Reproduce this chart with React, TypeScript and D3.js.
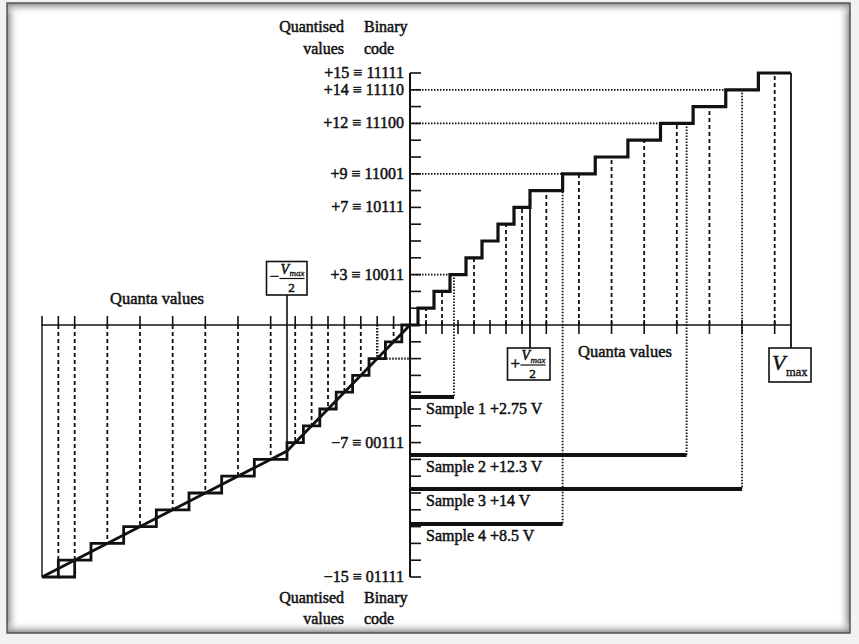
import React from 'react';
import * as d3 from 'd3';

// ---- data ----
const posLevels = [0, 1, 2, 3, 4, 5, 6, 7, 8, 9, 10, 11, 12, 13, 14, 15];
const negLevels = [0, -1, -2, -3, -4, -5, -6, -7, -8, -9, -10, -11, -12, -13, -14, -15];
const diagonalValues = [0, -7.5, -15];
const posQuantaTicks = [1, 2, 3, 4, 5, 6, 7, 8, 9, 10, 11, 12, 13, 14, 15];
const posQuantaDashed = [1, 2, 4, 6, 7, 8, 9, 10, 11, 12, 13, 15];
const negQuantaTicks = [-1, -2, -3, -4, -5, -6, -7, -8, -9, -10, -11, -12, -13, -14, -14.5, -15];
const negQuantaDashed = [-1, -3, -4, -5, -6, -7, -8, -9, -10, -11, -12, -13, -14];
const negDashedExtra = [-14.5];
const yTickLevels = [15, 14, 13, 12, 11, 10, 9, 8, 7, 6, 5, 4, 3, 2, 1, 0, -1, -2, -3, -4, -5, -6, -7, -8, -9, -10, -11, -12, -13, -14, -15];
const labelLevels = [15, 14, 12, 9, 7, 3, -7, -15];
const labelValues = ['+15', '+14', '+12', '+9', '+7', '+3', '\u22127', '\u221215'];
const labelCodes = ['11111', '11110', '11100', '11001', '10111', '10011', '00111', '01111'];
const sampleNames = ['Sample 1', 'Sample 2', 'Sample 3', 'Sample 4'];
const sampleVolts = [2.75, 12.3, 14, 8.5];
const sampleVoltText = ['+2.75 V', '+12.3 V', '+14 V', '+8.5 V'];
const sampleQuantised = [3, 12, 14, 9];
const negGuideLevel = -2;
const halfMax = 7.5;
const fullMax = 15.5;

// ---- layout ----
const W = 859;
const H = 644;
const X0 = 410;
const sampleBarY = [397, 455, 489, 524];
const FONT = '"Liberation Serif", "Times New Roman", serif';
const INK = '#111';

const xPos = d3.scaleLinear().domain([0, halfMax, fullMax]).range([X0, 530, 791]);
const xNeg = d3.scaleLinear().domain([-15, -halfMax, 0]).range([42, 287, X0]);
const xv = (v: number) => (v >= 0 ? xPos(v) : xNeg(v));
const y = d3.scaleLinear().domain([-15, 15]).range([577, 73]);
const Y0 = y(0);

const line = d3.line<[number, number]>();

function posStairs(): [number, number][] {
  const pts: [number, number][] = [[xv(posLevels[0]), y(posLevels[0])]];
  for (let i = 1; i < posLevels.length; i++) {
    const edge = (posLevels[i - 1] + posLevels[i]) / 2;
    pts.push([xv(edge), y(posLevels[i - 1])]);
    pts.push([xv(edge), y(posLevels[i])]);
  }
  pts.push([xv(fullMax), y(posLevels[posLevels.length - 1])]);
  return pts;
}

function negStairs(): [number, number][] {
  const pts: [number, number][] = [[xv(negLevels[0]), y(negLevels[0])]];
  for (let i = 1; i < negLevels.length; i++) {
    const edge = (negLevels[i - 1] + negLevels[i]) / 2;
    pts.push([xv(edge), y(negLevels[i - 1])]);
    pts.push([xv(edge), y(negLevels[i])]);
  }
  const last = negLevels[negLevels.length - 1];
  pts.push([xv(last), y(last)]);
  return pts;
}

const Txt = (p: any) => (
  <text fontFamily={FONT} fill={INK} stroke={INK} strokeWidth={0.5} {...p} />
);

function VmaxFrac({ x, yTop, sign }: { x: number; yTop: number; sign: string }) {
  return (
    <g>
      <Txt x={x + 3} y={yTop + 20} fontSize={17}>{sign}</Txt>
      <Txt x={x + 14} y={yTop + 11.5} fontSize={14} fontStyle="italic">V</Txt>
      <Txt x={x + 23} y={yTop + 14} fontSize={9} fontStyle="italic" strokeWidth={0.3}>max</Txt>
      <line x1={x + 13} x2={x + 38} y1={yTop + 16.5} y2={yTop + 16.5} stroke={INK} strokeWidth={1.2} />
      <Txt x={x + 25} y={yTop + 29.5} fontSize={13} textAnchor="middle">2</Txt>
    </g>
  );
}

export default function App() {
  const dashed = '4 3';
  const dotted = '1.5 1.5';
  return (
    <svg width={W} height={H} style={{ position: 'absolute', left: 0, top: 0, background: '#fff' }}>
      <defs>
        <linearGradient id="gl" x1="0" x2="1" y1="0" y2="0">
          <stop offset="0" stopColor="#8a8a8a" />
          <stop offset="1" stopColor="#fff" stopOpacity={0} />
        </linearGradient>
        <linearGradient id="gr" x1="1" x2="0" y1="0" y2="0">
          <stop offset="0" stopColor="#8a8a8a" />
          <stop offset="1" stopColor="#fff" stopOpacity={0} />
        </linearGradient>
        <linearGradient id="gt" x1="0" x2="0" y1="0" y2="1">
          <stop offset="0" stopColor="#8a8a8a" />
          <stop offset="1" stopColor="#fff" stopOpacity={0} />
        </linearGradient>
        <linearGradient id="gb" x1="0" x2="0" y1="1" y2="0">
          <stop offset="0" stopColor="#8a8a8a" />
          <stop offset="1" stopColor="#fff" stopOpacity={0} />
        </linearGradient>
      </defs>
      <rect x={0} y={0} width={W} height={H} fill="#f2f2f2" />
      <rect x={7} y={3} width={843} height={630} fill="#fff" />
      <rect x={7} y={3} width={12} height={630} fill="url(#gl)" />
      <rect x={838} y={3} width={12} height={630} fill="url(#gr)" />
      <rect x={7} y={3} width={843} height={12} fill="url(#gt)" />
      <rect x={7} y={621} width={843} height={12} fill="url(#gb)" />
      <rect x={7} y={3} width={843} height={630} fill="none" stroke="#555" strokeWidth={1.5} />

      {/* headers */}
      <Txt x={344} y={32} fontSize={16} textAnchor="end">Quantised</Txt>
      <Txt x={364} y={32} fontSize={16}>Binary</Txt>
      <Txt x={344} y={54} fontSize={16} textAnchor="end">values</Txt>
      <Txt x={364} y={54} fontSize={16}>code</Txt>
      <Txt x={344} y={603} fontSize={16} textAnchor="end">Quantised</Txt>
      <Txt x={364} y={603} fontSize={16}>Binary</Txt>
      <Txt x={344} y={624} fontSize={16} textAnchor="end">values</Txt>
      <Txt x={364} y={624} fontSize={16}>code</Txt>

      {/* y-axis labels */}
      {labelLevels.map((lv, i) => (
        <Txt key={'yl' + i} x={404} y={y(lv) + 5} fontSize={16} textAnchor="end">
          {labelValues[i] + ' \u2261 ' + labelCodes[i]}
        </Txt>
      ))}

      {/* dashed quanta lines */}
      {posQuantaDashed.map((k) => (
        <line key={'pd' + k} x1={xv(k)} x2={xv(k)} y1={Y0} y2={y(k)} stroke={INK} strokeWidth={1.8} strokeDasharray={dashed} />
      ))}
      {negQuantaDashed.map((k) => (
        <line key={'nd' + k} x1={xv(k)} x2={xv(k)} y1={Y0} y2={y(k)} stroke={INK} strokeWidth={1.8} strokeDasharray={dashed} />
      ))}
      {negDashedExtra.map((k) => (
        <line key={'ne' + k} x1={xv(k)} x2={xv(k)} y1={Y0} y2={y(Math.ceil(k))} stroke={INK} strokeWidth={1.8} strokeDasharray={dashed} />
      ))}

      {/* sample guides */}
      {sampleVolts.map((v, i) => (
        <g key={'sg' + i}>
          <line x1={X0} x2={xv(v)} y1={y(sampleQuantised[i])} y2={y(sampleQuantised[i])} stroke={INK} strokeWidth={1.8} strokeDasharray={dotted} />
          <line x1={xv(v)} x2={xv(v)} y1={y(sampleQuantised[i])} y2={sampleBarY[i]} stroke={INK} strokeWidth={1.8} strokeDasharray={dotted} />
          <line x1={X0} x2={xv(v)} y1={sampleBarY[i]} y2={sampleBarY[i]} stroke={INK} strokeWidth={3.8} />
          <Txt x={426} y={sampleBarY[i] + 17} fontSize={16}>{sampleNames[i] + ' ' + sampleVoltText[i]}</Txt>
        </g>
      ))}
      <line x1={xv(negGuideLevel)} x2={xv(negGuideLevel)} y1={Y0} y2={y(negGuideLevel)} stroke={INK} strokeWidth={2.4} strokeDasharray={dotted} />
      <line x1={xv(negGuideLevel)} x2={X0} y1={y(negGuideLevel)} y2={y(negGuideLevel)} stroke={INK} strokeWidth={2.4} strokeDasharray={dotted} />

      {/* axes */}
      <line x1={xv(-15)} x2={xv(fullMax)} y1={Y0} y2={Y0} stroke={INK} strokeWidth={1.6} />
      <line x1={X0} x2={X0} y1={y(15)} y2={y(-15)} stroke={INK} strokeWidth={2} />
      {yTickLevels.map((lv) => (
        <line key={'yt' + lv} x1={X0} x2={X0 + 11} y1={y(lv)} y2={y(lv)} stroke={INK} strokeWidth={1.6} />
      ))}
      {posQuantaTicks.map((k) => (
        <line key={'pt' + k} x1={xv(k)} x2={xv(k)} y1={Y0 - 5} y2={Y0 + 9} stroke={INK} strokeWidth={1.6} />
      ))}
      {negQuantaTicks.map((k) => (
        <line key={'nt' + k} x1={xv(k)} x2={xv(k)} y1={Y0 - 9} y2={Y0 + 1} stroke={INK} strokeWidth={1.6} />
      ))}
      <line x1={xv(-15)} x2={xv(-15)} y1={Y0} y2={y(-15)} stroke={INK} strokeWidth={1.4} />

      {/* reference lines to boxes */}
      <line x1={xv(fullMax)} x2={xv(fullMax)} y1={y(15)} y2={348} stroke={INK} strokeWidth={1.8} />
      <line x1={xv(halfMax)} x2={xv(halfMax)} y1={y(8)} y2={348} stroke={INK} strokeWidth={1.8} />
      <line x1={xv(-halfMax)} x2={xv(-halfMax)} y1={295} y2={y(-7)} stroke={INK} strokeWidth={1.6} />

      {/* staircases */}
      <path d={line(posStairs()) || ''} fill="none" stroke={INK} strokeWidth={3.2} strokeLinejoin="miter" />
      <path d={line(negStairs()) || ''} fill="none" stroke={INK} strokeWidth={2.8} strokeLinejoin="miter" />
      <path
        d={line([[xv(-14.5), y(-15)], [xv(-14), y(-15)], [xv(-14), y(-14)]]) || ''}
        fill="none" stroke={INK} strokeWidth={2.8}
      />
      <path
        d={line(diagonalValues.map((v) => [xv(v), y(v)] as [number, number])) || ''}
        fill="none" stroke={INK} strokeWidth={2.8}
      />

      {/* boxes */}
      <rect x={266.5} y={261.5} width={40.5} height={33.5} fill="#fff" stroke={INK} strokeWidth={1.6} />
      <VmaxFrac x={266.5} yTop={262} sign={'\u2212'} />
      <rect x={507.5} y={348} width={42.5} height={32} fill="#fff" stroke={INK} strokeWidth={1.6} />
      <VmaxFrac x={507.5} yTop={348.5} sign="+" />
      <rect x={769} y={348} width={42} height={34} fill="#fff" stroke={INK} strokeWidth={1.6} />
      <Txt x={772} y={370} fontSize={22} fontStyle="italic">V</Txt>
      <Txt x={786} y={376} fontSize={12.5} strokeWidth={0.35}>max</Txt>

      {/* quanta value labels */}
      <Txt x={110} y={304} fontSize={16.5}>Quanta values</Txt>
      <Txt x={578} y={357} fontSize={16.5}>Quanta values</Txt>
    </svg>
  );
}
